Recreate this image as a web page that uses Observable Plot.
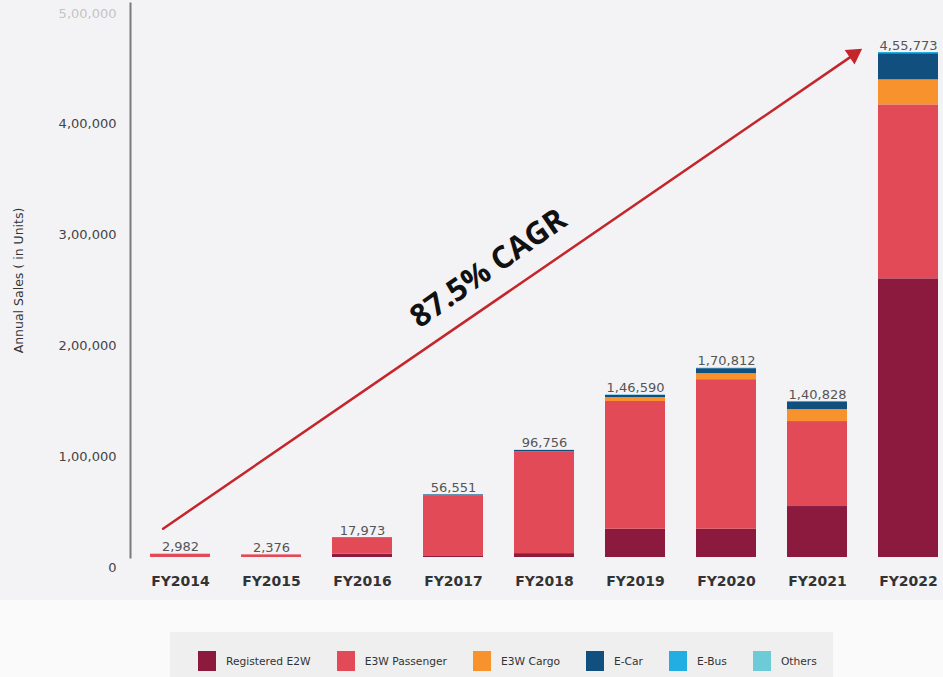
<!DOCTYPE html>
<html>
<head>
<meta charset="utf-8">
<script src="https://cdn.jsdelivr.net/npm/d3@7"></script>
<script src="https://cdn.jsdelivr.net/npm/@observablehq/plot@0.6"></script>
<style>
  html, body { margin: 0; padding: 0; background: #fafafa; }
  #page { position: relative; width: 943px; height: 677px; }
  #chart { width: 943px; height: 600px; background: #f3f3f5; }
  #chart svg { display: block; }
  #legend {
    position: absolute; left: 170px; top: 632px; width: 663px; height: 45px;
    background: #efefef; display: flex; align-items: flex-start; box-sizing: border-box;
    padding-left: 28px; padding-top: 19px; font-family: "DejaVu Sans", sans-serif; font-size: 10.7px; color: #333;
    white-space: nowrap;
  }
  #legend .item { display: flex; align-items: center; margin-right: 26px; flex-shrink: 0; }
  #legend .sw { width: 18px; height: 20px; margin-right: 10px; flex-shrink: 0; }
</style>
</head>
<body>
<div id="page">
  <div id="chart"></div>
  <div id="legend"></div>
</div>
<script>
// ---- data ----
const years = ["FY2014","FY2015","FY2016","FY2017","FY2018","FY2019","FY2020","FY2021","FY2022"];
const totals = [2982, 2376, 17973, 56551, 96756, 146590, 170812, 140828, 455773];
const categories = ["Registered E2W","E3W Passenger","E3W Cargo","E-Car","E-Bus","Others"];
const colors = ["#8c1a3f","#e34a58","#f7922d","#114f7f","#22ade3","#6ccbd6"];
const registeredE2W = [0, 0, 3000, 1500, 3500, 25500, 25500, 46000, 251500];
const e3wPassenger  = [2982, 2376, 14800, 54200, 91900, 115300, 135000, 76700, 157000];
const e3wCargo      = [0, 0, 0, 0, 0, 3500, 5400, 10800, 22600];
const eCar          = [0, 0, 173, 800, 1200, 2000, 4500, 6900, 23600];
const eBus          = [0, 0, 0, 51, 156, 290, 412, 428, 1073];
const others        = [0, 0, 0, 0, 0, 0, 0, 0, 0];
const yTicks = [0, 100000, 200000, 300000, 400000];
const yTickFaded = [500000];
const yTitle = "Annual Sales ( in Units)";
const cagrNote = [{year: "FY2017", value: 261000, text: "87.5% CAGR"}];
const arrowNote = [{year1: "FY2014", value1: 26000, year2: "FY2022", value2: 476900}];
const arrowHead = [{year: "FY2022", value: 454000}];

// ---- helpers ----
function fmtIN(n) {
  const s = String(Math.round(n));
  if (s.length <= 3) return s;
  const last3 = s.slice(-3);
  const rest = s.slice(0, -3).replace(/\B(?=(\d{2})+(?!\d))/g, ",");
  return rest + "," + last3;
}

const series = [registeredE2W, e3wPassenger, e3wCargo, eCar, eBus, others];
const table = [];
categories.forEach((c, i) => years.forEach((y, j) => {
  const v = series[i][j];
  if (v > 0) table.push({year: y, category: c, value: v});
}));

const arrowColor = "#c4262c";

const chart = Plot.plot({
  width: 943, height: 600,
  marginLeft: 130, marginRight: 0, marginTop: 3, marginBottom: 43,
  style: {background: "#f3f3f5", fontFamily: "DejaVu Sans, sans-serif", overflow: "visible"},
  x: {domain: years, paddingInner: 0.34, paddingOuter: 0.11, align: 0.8, label: null},
  y: {domain: [0, 500000], label: null},
  color: {domain: categories, range: colors},
  marks: [
    Plot.frame({anchor: "left", stroke: "#7a7a7a", strokeWidth: 2}),
    Plot.barY(table, {x: "year", y: "value", fill: "category"}),
    Plot.axisX({tickSize: 0, tickPadding: 19, fontSize: 14, fontWeight: "bold", fill: "#333", label: null}),
    Plot.axisY({ticks: yTicks, tickSize: 0, tickPadding: 14, dy: 10, tickFormat: fmtIN, fontSize: 13, fill: "#444", label: null}),
    Plot.axisY({ticks: yTickFaded, tickSize: 0, tickPadding: 14, dy: 10, tickFormat: fmtIN, fontSize: 13, fill: "#c4c4c4", label: null}),
    Plot.text([yTitle], {frameAnchor: "left", textAnchor: "middle", rotate: -90, dx: -112, fontSize: 12.5, fill: "#333", text: d => d}),
    Plot.text(totals, {x: (d, i) => years[i], y: d => d, text: d => fmtIN(d), dy: -7, lineAnchor: "middle", fontSize: 13, fill: "#555", ariaLabel: "total-labels"}),
    Plot.arrow(arrowNote, {x1: "year1", y1: "value1", x2: "year2", y2: "value2", dx: -17.4, insetEnd: 46, headLength: 0, stroke: arrowColor, strokeWidth: 2.5}),
    Plot.dot(arrowHead, {x: "year", y: "value", dx: -54.7, symbol: "triangle", r: 6.5, rotate: 55.7, fill: arrowColor, stroke: "none"}),
    Plot.text(cagrNote, {x: "year", y: "value", text: "text", dx: 35, rotate: -35, fontSize: 31, fontWeight: "bold", fill: "#111", fontFamily: "Open Sans, sans-serif", lineAnchor: "middle"})
  ]
});
d3.select(chart).selectAll('g[aria-label="total-labels"] text').style("letter-spacing", "0.8px");
document.getElementById("chart").appendChild(chart);

// ---- legend ----
const legend = document.getElementById("legend");
categories.forEach((c, i) => {
  const item = document.createElement("div");
  item.className = "item";
  const sw = document.createElement("div");
  sw.className = "sw";
  sw.style.background = colors[i];
  const lab = document.createElement("span");
  lab.textContent = c;
  item.appendChild(sw);
  item.appendChild(lab);
  legend.appendChild(item);
});
</script>
</body>
</html>
